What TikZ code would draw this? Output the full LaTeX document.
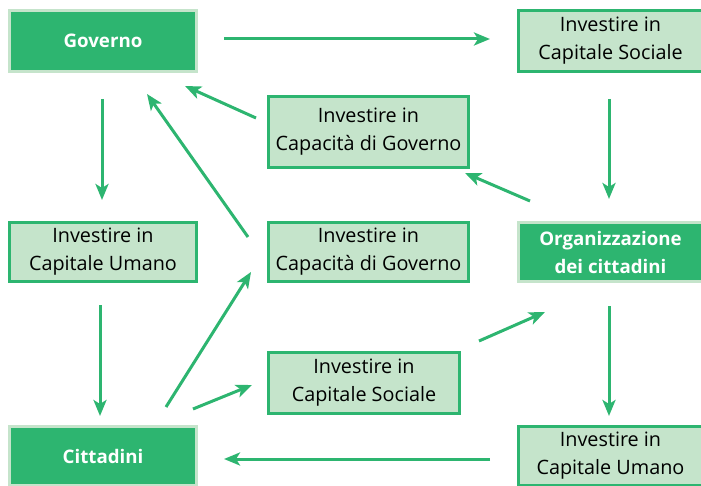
\documentclass[tikz,border=0pt]{standalone}
\usepackage{fontspec}
\setmainfont{Open Sans}
\usetikzlibrary{arrows.meta}
\definecolor{dkgreen}{RGB}{45,181,112}
\definecolor{ltgreen}{RGB}{197,228,203}
\tikzset{
  box/.style={line width=3pt, inner sep=0pt, align=center,
    font=\fontsize{19.8pt}{28pt}\selectfont},
  dark/.style={box, fill=dkgreen, draw=ltgreen, text=white,
    font=\fontsize{18.7pt}{28pt}\selectfont\bfseries},
  light/.style={box, fill=ltgreen, draw=dkgreen, text=black},
  arr/.style={draw=dkgreen, line width=3pt,
    -{Stealth[length=16pt, width=13pt, inset=4pt]}}
}
\begin{document}
\begin{tikzpicture}[x=1pt,y=-1pt]
\useasboundingbox (0,0) rectangle (701,486);
\node[dark, minimum width=187pt, minimum height=61pt] (A) at (103,41) {Governo};
\node[light, minimum width=184pt, minimum height=61pt] (B) at (610.5,41) {Investire in\\Capitale Sociale};
\node[light, minimum width=200pt, minimum height=71pt] (C) at (368.5,132) {Investire in\\Capacità di Governo};
\node[light, minimum width=187pt, minimum height=59pt] (D) at (103,252) {Investire in\\Capitale Umano};
\node[light, minimum width=200pt, minimum height=59pt] (E) at (368.5,252) {Investire in\\Capacità di Governo};
\node[dark, minimum width=184pt, minimum height=59pt] (F) at (610.5,252) {Organizzazione\\dei cittadini};
\node[light, minimum width=191pt, minimum height=61pt] (G) at (364,383) {Investire in\\Capitale Sociale};
\node[dark, minimum width=187pt, minimum height=59pt] (H) at (103,456) {Cittadini};
\node[light, minimum width=184pt, minimum height=59pt] (I) at (610.5,456) {Investire in\\Capitale Umano};

\draw[arr] ([shift={(26,-2)}]A.east) -- ([shift={(-27,-2)}]B.west);
\draw[arr] ([shift={(-1.5,26)}]B.south) -- ([shift={(-1.5,-22)}]F.north);
\draw[arr] ([shift={(13,-20)}]F.north west) -- ([shift={(-5,4)}]C.south east);
\draw[arr] ([shift={(-11,23)}]C.north west) -- ([shift={(-13,13)}]A.south east);
\draw[arr] ([shift={(-1,26)}]A.south) -- ([shift={(-1,-21)}]D.north);
\draw[arr] ([shift={(-3,22)}]D.south) -- ([shift={(-3,-9)}]H.north);
\draw[arr] ([shift={(-19,16)}]E.north west) -- ([shift={(44,21)}]A.south);
\draw[arr] ([shift={(-32,-18)}]H.north east) -- ([shift={(-16,-11)}]E.south west);
\draw[arr] ([shift={(-5,-16)}]H.north east) -- ([shift={(-15,2)}]G.west);
\draw[arr] ([shift={(18,-10)}]G.north east) -- ([shift={(28,29)}]F.south west);
\draw[arr] ([shift={(-1.5,23)}]F.south) -- ([shift={(-1.5,-9)}]I.north);
\draw[arr] ([shift={(-27,3)}]I.west) -- ([shift={(26,3)}]H.east);
\end{tikzpicture}
\end{document}
